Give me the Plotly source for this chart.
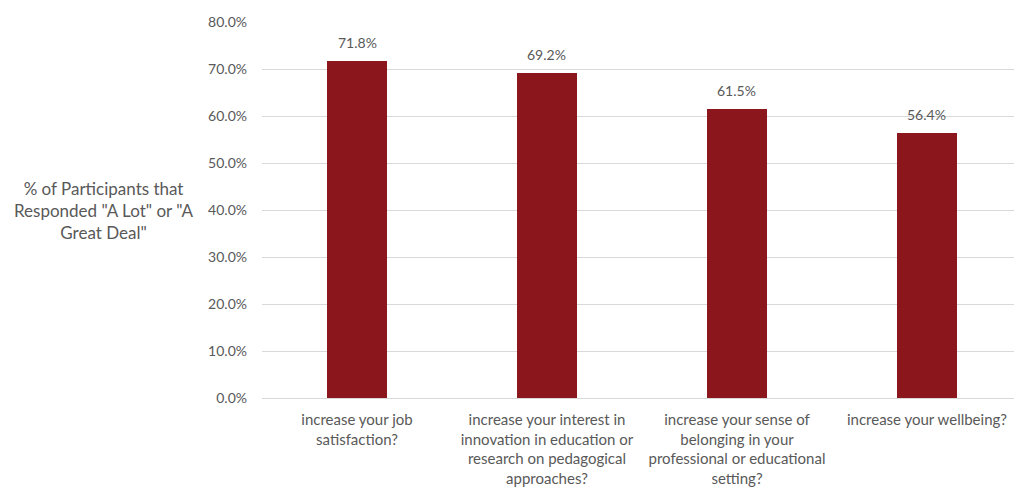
import plotly.graph_objects as go

categories = [
    "increase your job<br>satisfaction?",
    "increase your interest in<br>innovation in education or<br>research on pedagogical<br>approaches?",
    "increase your sense of<br>belonging in your<br>professional or educational<br>setting?",
    "increase your wellbeing?",
]
values = [0.718, 0.692, 0.615, 0.564]
y_ticks = [0, 0.1, 0.2, 0.3, 0.4, 0.5, 0.6, 0.7, 0.8]
y_title = '% of Participants that<br>Responded "A Lot" or "A<br>Great Deal"'

FONT = "Lato"
TXT = "#595959"

xs = list(range(len(categories)))
fig = go.Figure(go.Bar(
    x=xs,
    y=values,
    width=0.316,
    marker=dict(color="#8B161B", line=dict(width=0)),
    hoverinfo="skip",
))

W, H = 1014, 488
L, T, B = 262, 22, 90
annotations = [dict(
    x=x, y=v, xref="x", yref="y",
    text=f"{v*100:.1f}%",
    showarrow=False, xanchor="center", yanchor="bottom", yshift=8,
    font=dict(family=FONT, size=14, color=TXT),
) for x, v in zip(xs, values)]
annotations.append(dict(
    text=y_title,
    xref="paper", yref="paper",
    x=(104 - L) / (W - L), y=(H - B - 210) / (H - T - B),
    xanchor="center", yanchor="middle",
    showarrow=False, align="center",
    font=dict(family=FONT, size=17, color=TXT),
))

fig.update_layout(
    width=W, height=H,
    margin=dict(l=L, r=0, t=T, b=B),
    paper_bgcolor="white", plot_bgcolor="white",
    showlegend=False,
    font=dict(family=FONT, size=14, color=TXT),
    bargap=0,
    xaxis=dict(
        range=[-0.5, 3.458],
        tickmode="array",
        tickvals=xs,
        ticktext=categories,
        showgrid=False, zeroline=False, showline=False,
        ticks="", ticklen=0,
        ticklabelstandoff=11,
        tickfont=dict(family=FONT, size=15, color=TXT),
        fixedrange=True,
    ),
    yaxis=dict(
        range=[0, 0.8],
        tickmode="array",
        tickvals=y_ticks,
        tickformat=".1%",
        showgrid=True, gridcolor="#D9D9D9", gridwidth=1,
        zeroline=True, zerolinecolor="#D9D9D9", zerolinewidth=1,
        showline=False, ticks="", ticklen=0,
        ticklabelstandoff=14,
        tickfont=dict(family=FONT, size=14, color=TXT),
        fixedrange=True,
    ),
    annotations=annotations,
)

fig.write_html("out.html")
